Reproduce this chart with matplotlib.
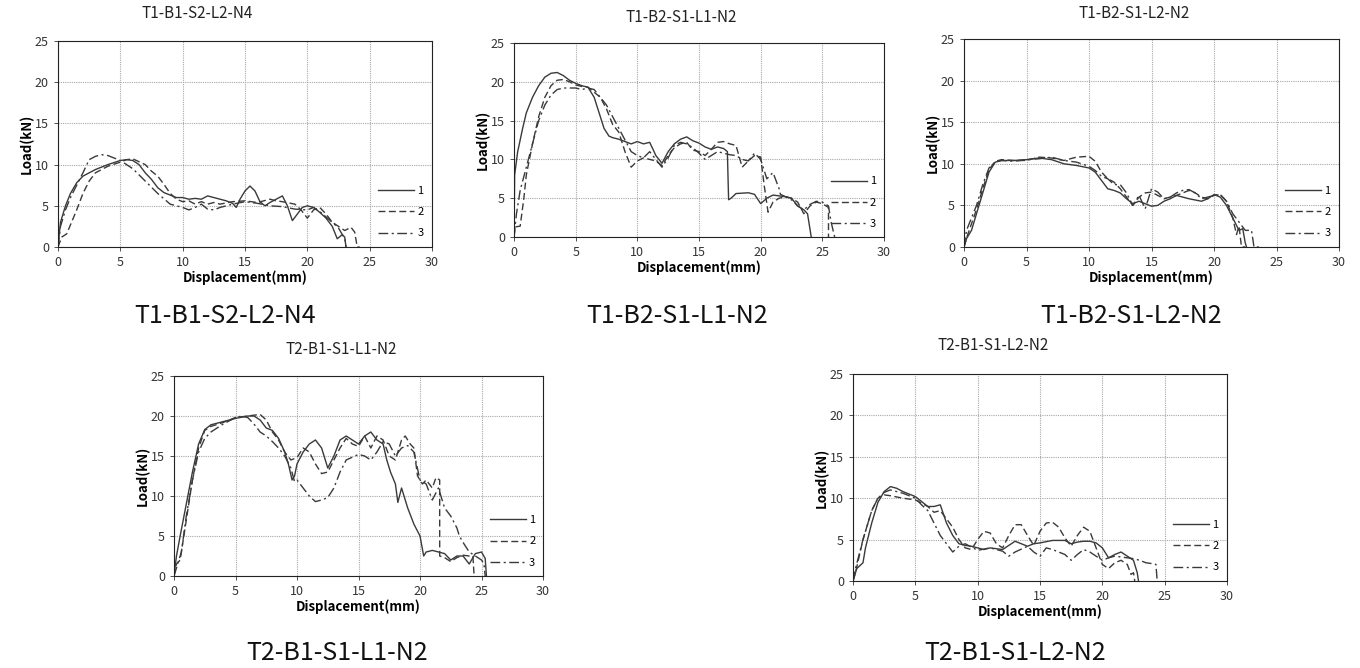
import numpy as np
import matplotlib
matplotlib.use('Agg')
import matplotlib.pyplot as plt

plt.rcParams['font.family'] = ['Noto Sans CJK KR', 'DejaVu Sans']

# panel names
names = ['T1-B1-S2-L2-N4', 'T1-B2-S1-L1-N2', 'T1-B2-S1-L2-N2', 'T2-B1-S1-L1-N2', 'T2-B1-S1-L2-N2']
labels = ['1', '2', '3']

# ---- T1-B1-S2-L2-N4 ----
p1_x1 = [0, 0.2, 0.6, 1, 1.5, 2, 3, 4, 5, 5.5, 6, 6.5, 7, 7.5, 8, 8.5, 9, 9.5, 10, 10.5, 11, 11.5, 12, 12.5, 13,
         13.5, 14, 14.3, 14.6, 15, 15.4, 15.8, 16.2, 16.6, 17, 17.5, 18, 18.4, 18.8, 19.2, 19.6, 20, 20.5, 21, 21.5,
         22, 22.4, 22.8, 23.0, 23.1]
p1_y1 = [0, 3, 5, 6.5, 7.8, 8.6, 9.4, 10, 10.5, 10.6, 10.5, 10.0, 9.0, 8.2, 7.2, 6.6, 6.3, 6.0, 6.0, 5.8, 5.9, 5.8,
         6.2, 6.0, 5.8, 5.6, 5.3, 4.8, 5.8, 6.8, 7.4, 6.8, 5.5, 5.0, 5.4, 5.8, 6.2, 5.0, 3.2, 4.0, 4.8, 5.0, 4.8,
         4.2, 3.5, 2.5, 1.0, 1.5, 1.2, 0]
p1_x2 = [0, 0.3, 0.7, 1.5, 2, 2.5, 3, 4, 5, 5.5, 6, 7, 7.5, 8, 8.5, 9, 9.5, 10, 10.5, 11, 11.5, 12, 12.5, 13, 14,
         15, 16, 17, 17.5, 18, 19, 19.5, 20, 20.5, 21, 21.5, 22, 22.5, 23, 23.5, 23.8, 24.0, 24.2]
p1_y2 = [0, 1.2, 1.6, 4.5, 6.5, 8, 9, 9.8, 10.3, 10.6, 10.7, 10.0, 9.2, 8.6, 7.6, 6.5, 5.8, 5.5, 5.6, 5.2, 5.5, 5.2,
         5.4, 5.2, 5.5, 5.6, 5.4, 5.8, 5.6, 5.5, 5.2, 4.5, 3.5, 4.5, 4.8, 4.0, 3.0, 2.5, 2.0, 2.4, 1.8, 0, 0]
p1_x3 = [0, 0.2, 0.6, 1, 1.5, 2, 2.5, 3, 3.5, 4, 4.5, 5, 6, 7, 8, 9, 10, 10.5, 11, 11.5, 12, 12.5, 13, 14, 15, 16,
         17, 18, 19, 20, 20.5, 21, 22, 22.5, 23, 23.1]
p1_y3 = [0, 2.5, 4.5, 6, 7.5, 9, 10.6, 11.0, 11.2, 11.1, 10.8, 10.5, 9.5, 8, 6.5, 5.2, 4.8, 4.5, 4.8, 5.2, 4.6, 4.5,
         4.8, 5.2, 5.5, 5.3, 5.0, 4.9, 4.6, 4.5, 4.8, 4.3, 3.0, 2.3, 1.0, 0]

# ---- T1-B2-S1-L1-N2 ----
p2_x1 = [0, 0.05, 0.3, 0.7, 1, 1.5, 2, 2.5, 3, 3.5, 4, 4.5, 5, 5.5, 6, 6.5, 7, 7.3, 7.7, 8, 8.5, 9, 9.5, 10, 10.5,
         11, 11.3, 11.5, 12, 12.5, 13, 13.5, 14, 14.5, 15, 15.5, 16, 16.5, 17, 17.3, 17.4, 17.6, 18, 19, 19.5, 20,
         20.5, 21, 22, 22.5, 23, 23.5, 23.8, 24.1]
p2_y1 = [0, 8, 11, 14, 16, 18, 19.5, 20.6, 21.1, 21.2, 20.8, 20.2, 19.8, 19.5, 19.3, 18, 15.5, 14, 13, 12.8, 12.6,
         12.3, 12.0, 12.3, 12.0, 12.2, 11.2, 10.5, 9.5, 11, 12, 12.6, 12.9, 12.4, 12.1, 11.6, 11.3, 11.6, 11.4, 11.0,
         4.8, 5.0, 5.6, 5.7, 5.5, 4.3, 5.0, 5.4, 5.2, 5.0, 4.0, 3.5, 3.0, 0]
p2_x2 = [0, 0.1, 0.5, 0.8, 1, 1.5, 2, 2.5, 3, 3.5, 4, 4.5, 5, 5.5, 6, 7, 7.5, 8, 8.5, 9, 9.5, 10, 10.5, 11, 11.5,
         12, 12.5, 13, 13.5, 14, 14.5, 15, 15.5, 16, 16.5, 17, 17.5, 18, 18.5, 19, 19.5, 20, 20.3, 20.6, 21, 21.5,
         22, 22.5, 23, 23.5, 24, 24.5, 25, 25.5, 25.5]
p2_y2 = [0, 1.3, 1.4, 5, 8, 12, 15.5, 18, 19.5, 20.2, 20.3, 20.0, 19.6, 19.4, 19.3, 18.0, 16.5, 14.5, 13.5, 11, 9.0,
         9.8, 10.2, 10.0, 9.8, 9.2, 10.5, 11.5, 12.0, 12.2, 11.2, 11.0, 10.5, 11.3, 12.2, 12.3, 12.0, 11.8, 9.0, 9.8,
         10.5, 10.3, 6.5, 3.2, 4.5, 5.0, 5.2, 5.0, 4.5, 3.0, 4.0, 4.5, 4.3, 3.8, 0]
p2_x3 = [0, 0.2, 0.5, 1, 1.5, 2, 2.5, 3, 3.5, 4, 5, 5.5, 6, 6.5, 7, 7.5, 8, 8.5, 9, 9.5, 10, 10.5, 11, 11.5, 12,
         12.5, 13, 13.5, 14, 14.5, 15, 15.5, 16, 16.5, 17, 17.5, 18, 18.5, 19, 19.5, 20, 20.5, 21, 21.5, 21.6, 22,
         22.5, 23, 23.5, 24, 24.5, 25, 25.5, 25.7, 26]
p2_y3 = [0, 3, 6, 9, 12, 15, 17, 18.3, 19.0, 19.2, 19.2, 19.0, 19.2, 19.0, 18.0, 17.0, 15.5, 14.0, 12.5, 11.0, 10.5,
         10.2, 11.0, 10.0, 9.0, 10.2, 11.8, 12.2, 12.0, 11.5, 10.8, 10.0, 10.5, 11.0, 10.8, 10.6, 10.5, 10.0, 9.8,
         10.8, 10.0, 7.5, 8.3, 6.2, 5.5, 5.2, 4.8, 4.0, 3.5, 4.2, 4.6, 4.5, 4.0, 2.0, 0]

# ---- T1-B2-S1-L2-N2 ----
p3_x1 = [0, 0.2, 0.6, 1, 1.5, 2, 2.5, 3, 4, 5, 6, 7, 8, 9, 10, 10.5, 11, 11.5, 12, 12.5, 13, 13.5, 14, 14.5, 15,
         15.5, 16, 16.5, 17, 17.5, 18, 19, 19.5, 20, 20.5, 21, 21.5, 22, 22.3, 22.5, 22.6]
p3_y1 = [0, 1, 2, 4, 6.5, 9, 10.2, 10.4, 10.4, 10.5, 10.7, 10.5, 10.0, 9.8, 9.5, 9.0, 8.0, 7.0, 6.8, 6.5, 5.8, 5.2,
         5.5, 5.2, 4.9, 5.0, 5.5, 5.8, 6.2, 6.0, 5.8, 5.5, 5.8, 6.3, 6.0, 5.0, 3.5, 2.0, 2.2, 0.5, 0]
p3_x2 = [0, 0.3, 1, 1.5, 2, 2.5, 3, 4, 5, 6, 7, 8, 9, 10, 10.5, 11, 11.5, 12, 12.5, 13, 13.5, 14, 14.5, 15, 15.5,
         16, 16.5, 17, 17.5, 18, 18.5, 19, 19.5, 20, 20.5, 21, 21.5, 21.8, 22, 22.2, 22.5]
p3_y2 = [0, 1.5, 4.5, 7, 9.3, 10.3, 10.5, 10.4, 10.4, 10.8, 10.7, 10.4, 10.8, 10.9, 10.3, 9.0, 8.2, 7.8, 7.0, 6.0,
         5.0, 6.0, 6.5, 6.6, 6.2, 5.8, 6.0, 6.2, 6.5, 6.8, 6.5, 6.0, 5.8, 6.2, 6.3, 5.5, 3.5, 1.5, 2.5, 0, 0]
p3_x3 = [0, 0.2, 1, 1.5, 2, 2.5, 3, 4, 5, 6, 7, 8, 9, 10, 10.5, 11, 11.5, 12, 12.5, 13, 13.5, 14, 14.5, 15, 15.5,
         16, 16.5, 17, 17.5, 18, 18.5, 19, 20, 20.5, 21, 21.5, 22, 22.5, 23, 23.2, 23.7]
p3_y3 = [0, 2, 5, 7.5, 9.5, 10.2, 10.4, 10.3, 10.5, 10.6, 10.8, 10.4, 10.2, 9.7, 9.2, 8.5, 8.2, 7.5, 7.5, 6.5, 5.0,
         6.2, 4.6, 7.0, 6.6, 5.8, 6.0, 6.5, 6.8, 6.9, 6.5, 5.8, 6.2, 6.3, 5.5, 4.0, 3.0, 2.0, 2.0, 0, 0]

# ---- T2-B1-S1-L1-N2 ----
p4_x1 = [0, 0.2, 0.5, 1, 1.5, 2, 2.5, 3, 4, 5, 6, 6.5, 7, 7.5, 8, 8.5, 9, 9.3, 9.6, 9.8, 10, 10.5, 11, 11.5, 12,
         12.5, 13, 13.5, 14, 14.5, 15, 15.5, 16, 16.5, 17, 17.3, 17.6, 18, 18.2, 18.5, 19, 19.5, 20, 20.3, 20.5, 21,
         22, 22.5, 23, 23.5, 24, 24.5, 25, 25.3, 25.4]
p4_y1 = [0, 2.5, 5, 9, 13, 16.5, 18.3, 18.9, 19.3, 19.7, 20.0, 20.0, 19.5, 18.5, 18.2, 17.2, 15.5, 14.0, 12.0, 12.5,
         14.0, 15.5, 16.5, 17.0, 16.0, 13.5, 15.0, 17.0, 17.5, 17.0, 16.5, 17.5, 18.0, 17.0, 16.5, 14.5, 13.0, 11.5,
         9.2, 11.0, 8.5, 6.5, 5.0, 2.5, 3.0, 3.2, 2.8, 2.0, 2.5, 2.5, 1.5, 2.8, 3.0, 2.2, 0]
p4_x2 = [0, 0.2, 0.5, 1, 1.5, 2, 2.5, 3, 4, 5, 6, 7, 7.5, 8, 8.5, 9, 9.5, 10, 10.5, 11, 11.5, 12, 12.5, 13, 13.5, 14,
         14.5, 15, 15.5, 16, 16.5, 17, 17.5, 18, 18.5, 18.8, 19.2, 19.5, 19.8, 20.2, 20.5, 21, 21.3, 21.6, 21.6, 22,
         22.5, 23, 23.5, 24, 24.3, 24.4]
p4_y2 = [0, 1.5, 2, 7, 12, 16, 18.2, 18.7, 19.2, 19.8, 20.0, 20.2, 19.5, 18.0, 17.0, 15.5, 14.5, 14.8, 16.0, 15.5,
         14.0, 12.8, 13.0, 14.5, 16.0, 17.2, 16.5, 16.2, 17.5, 16.0, 17.5, 17.0, 15.0, 14.5, 17.0, 17.5, 16.5, 16.0,
         12.5, 11.5, 12.0, 11.0, 12.3, 12.0, 2.5, 2.3, 1.8, 2.3, 2.6, 2.5, 2.5, 0]
p4_x3 = [0, 0.2, 0.6, 1, 1.5, 2, 2.5, 3, 4, 5, 5.5, 6, 6.5, 7, 7.5, 8, 8.5, 9, 9.5, 9.8, 10, 10.5, 11, 11.5, 12,
         12.5, 13, 13.5, 14, 15, 15.5, 16, 16.5, 17, 17.5, 18, 18.5, 19, 19.5, 20, 20.5, 21, 21.5, 22, 22.5, 23,
         23.2, 23.5, 24, 24.5, 25, 25.2, 25.3]
p4_y3 = [0, 1, 3, 7.5, 12, 15.5, 17.2, 18.0, 19.0, 19.8, 20.0, 19.8, 19.0, 18.0, 17.5, 16.8, 16.0, 15.0, 13.5, 11.8,
         12.0, 11.0, 10.0, 9.3, 9.5, 9.8, 11.0, 13.0, 14.5, 15.2, 15.0, 14.5, 15.5, 16.8, 16.5, 15.0, 16.0, 16.3,
         15.5, 12.0, 11.5, 9.5, 11.0, 8.5, 7.5, 6.0, 5.0, 4.2, 3.0, 2.5, 2.0, 1.5, 0]

# ---- T2-B1-S1-L2-N2 ----
p5_x1 = [0, 0.3, 0.8, 1, 1.5, 2, 2.5, 3, 3.5, 4, 5, 6, 6.5, 7, 7.5, 8, 8.5, 9, 9.5, 10, 10.5, 11, 12, 12.5, 13,
         13.5, 14, 14.5, 15, 16, 17, 17.5, 18, 18.5, 19, 19.5, 20, 20.5, 21, 21.5, 22, 22.5, 22.8, 22.9]
p5_y1 = [0, 1.5, 2.2, 4, 7, 9.5, 10.8, 11.4, 11.2, 10.8, 10.2, 9.0, 9.0, 9.2, 7.0, 5.5, 4.5, 4.3, 4.2, 4.0, 3.8,
         4.0, 3.8, 4.3, 4.8, 4.5, 4.2, 4.5, 4.6, 4.9, 4.9, 4.5, 4.7, 4.8, 4.8, 4.6, 4.0, 2.8, 3.2, 3.5, 3.0, 2.5,
         1.0, 0]
p5_x2 = [0, 0.2, 0.8, 1.5, 2, 2.5, 3, 4, 5, 6, 6.5, 7, 7.5, 8, 8.5, 9, 9.5, 10, 10.5, 11, 11.5, 12, 12.5, 13, 13.5,
         14, 14.5, 15, 15.5, 16, 16.5, 17, 17.5, 18, 18.5, 19, 19.5, 20, 20.5, 21, 21.5, 22, 22.3, 22.5, 22.6]
p5_y2 = [0, 1, 5, 8.5, 10.0, 10.4, 10.3, 10.0, 9.8, 9.0, 8.3, 8.5, 7.5, 6.5, 5.0, 4.0, 3.8, 5.0, 6.0, 5.8, 4.5,
         4.0, 5.5, 6.8, 6.8, 5.5, 4.3, 6.0, 7.0, 7.1, 6.5, 5.2, 4.2, 5.5, 6.5, 6.0, 4.0, 2.0, 1.5, 2.2, 2.5, 2.0,
         0.8, 1.0, 0]
p5_x3 = [0, 0.2, 0.8, 1.5, 2, 2.5, 3, 4, 5, 5.5, 6, 6.5, 7, 7.5, 8, 8.5, 9, 10, 11, 12, 12.5, 13, 14, 14.5, 15,
         15.5, 16, 17, 17.5, 18, 18.5, 19, 19.5, 20, 20.5, 21, 21.5, 22, 22.5, 23, 23.5, 24, 24.3, 24.4]
p5_y3 = [0, 1.5, 5, 8.5, 10.0, 10.7, 11.0, 10.6, 10.0, 9.2, 8.5, 7.0, 5.5, 4.5, 3.5, 4.2, 4.5, 3.7, 4.0, 3.6, 3.0,
         3.5, 4.2, 3.5, 3.0, 4.0, 3.8, 3.2, 2.5, 3.2, 3.8, 3.5, 3.0, 2.5, 2.8, 3.0, 2.9, 2.8, 2.7, 2.5, 2.2, 2.1,
         2.0, 0]

curves = [
    [(p1_x1, p1_y1), (p1_x2, p1_y2), (p1_x3, p1_y3)],
    [(p2_x1, p2_y1), (p2_x2, p2_y2), (p2_x3, p2_y3)],
    [(p3_x1, p3_y1), (p3_x2, p3_y2), (p3_x3, p3_y3)],
    [(p4_x1, p4_y1), (p4_x2, p4_y2), (p4_x3, p4_y3)],
    [(p5_x1, p5_y1), (p5_x2, p5_y2), (p5_x3, p5_y3)],
]

# axes boxes in pixels: left, top, right, bottom
boxes = [(58, 41, 432, 247), (514, 43, 884, 237), (964, 39, 1339, 247),
         (174, 376, 543, 576), (853, 374, 1227, 581)]
# small title position and caption position (pixels)
title_pos = [(197, 14), (681, 17), (1134, 14), (341, 349), (993, 346)]
caption_pos = [(225, 316), (677, 316), (1131, 316), (337, 653), (1015, 653)]

W, H = 1360, 668
fig = plt.figure(figsize=(W / 100, H / 100), dpi=100)

styles = ['-', (0, (5, 2.5)), (0, (7, 2.5, 1.5, 2.5))]
line_color = '#3a3a3a'

for k in range(5):
    l, t, r, b = boxes[k]
    ax = fig.add_axes([l / W, 1 - b / H, (r - l) / W, (b - t) / H])
    for j, (xs, ys) in enumerate(curves[k]):
        ax.plot(xs, ys, color=line_color, lw=1.0, linestyle=styles[j], label=labels[j])
    ax.set_xlim(0, 30)
    ax.set_ylim(0, 25)
    ax.set_xticks(np.arange(0, 31, 5))
    ax.set_yticks(np.arange(0, 26, 5))
    ax.grid(True, color='#a8a8a8', linestyle=(0, (1, 1)), linewidth=0.8)
    ax.tick_params(labelsize=9, colors='#333333', length=3, width=0.6)
    for s in ax.spines.values():
        s.set_linewidth(0.8)
        s.set_color('#222222')
    ax.set_xlabel('Displacement(mm)', fontsize=9.5, fontweight='bold', labelpad=1)
    ax.set_ylabel('Load(kN)', fontsize=9.5, fontweight='bold', labelpad=1)
    ax.legend(loc='lower left', bbox_to_anchor=(0.845, 0.02), frameon=False, fontsize=8,
              handlelength=3.2, handletextpad=0.3, labelspacing=1.0, borderaxespad=0)
    tx, ty = title_pos[k]
    fig.text(tx / W, 1 - ty / H, names[k], ha='center', va='center', fontsize=11, color='#222222')
    cx, cy = caption_pos[k]
    fig.text(cx / W, 1 - cy / H, names[k], ha='center', va='center', fontsize=18, color='#111111')

fig.savefig('out.png', dpi=100)
